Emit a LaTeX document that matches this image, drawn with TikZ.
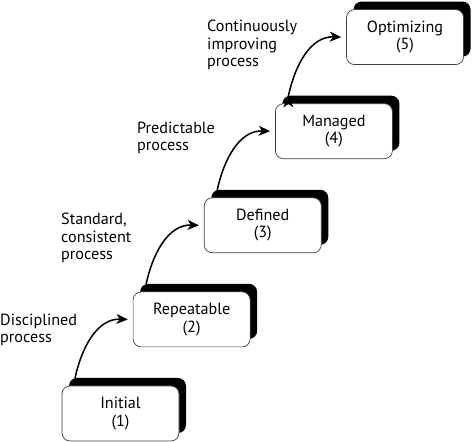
\documentclass[tikz,border=0pt]{standalone}
\usepackage{fontspec}
\setmainfont{PT Sans}
\usepackage{tikz}
\usetikzlibrary{arrows.meta,positioning,shadows}

\tikzset{
    level/.style={rectangle, draw=black!75, line width=0.6pt, fill=white, rounded corners=0.24cm,
        minimum width=3.51cm, minimum height=1.65cm, align=center,
        general shadow={fill=black, shadow xshift=0.21cm, shadow yshift=0.24cm}},
    note/.style={anchor=west, align=left, inner sep=0pt},
    climb/.style={line width=1.3pt, -{Stealth[length=3.4mm, width=3mm, inset=1mm]}}
}

\begin{document}
\begin{tikzpicture}[font=\fontsize{13.8}{14.8}\selectfont]
    \useasboundingbox (0,0) rectangle (14.19,13.26);
    \def\dx{2.134}
    \def\dy{2.823}
    \def\x{3.615}
    \def\y{0.855}
    \node(s1) [level] at (\x + \dx * 0, \y + \dy * 0) {Initial\\(1)};
    \node(s2) [level] at (\x + \dx * 1, \y + \dy * 1) {Repeatable\\(2)};
    \node(s3) [level] at (\x + \dx * 2, \y + \dy * 2) {Defined\\(3)};
    \node(s4) [level] at (\x + \dx * 3, \y + \dy * 3) {Managed\\(4)};
    \node(s5) [level] at (\x + \dx * 4, \y + \dy * 4) {Optimizing\\(5)};

    \node(l1) [note] at (0, 3.36) {Disciplined\\process};
    \node(l2) [note] at (1.83, 6.12) {Standard,\\consistent\\process};
    \node(l3) [note] at (4.11, 9.12) {Predictable\\process};
    \node(l4) [note] at (6.21, 11.91) {Continuously\\improving\\process};

    \draw[climb]
    ([xshift=0.4cm, yshift=0.22cm]s1.north west) edge [out=78, in=178] ([xshift=-0.15cm]s2.west)
    ([xshift=0.4cm, yshift=0.22cm]s2.north west) edge [out=78, in=178] ([xshift=-0.15cm]s3.west)
    ([xshift=0.4cm, yshift=0.22cm]s3.north west) edge [out=78, in=178] ([xshift=-0.15cm]s4.west)
    ([xshift=0.4cm, yshift=0.22cm]s4.north west) edge [out=78, in=178] ([xshift=-0.15cm]s5.west);
\end{tikzpicture}
\end{document}
